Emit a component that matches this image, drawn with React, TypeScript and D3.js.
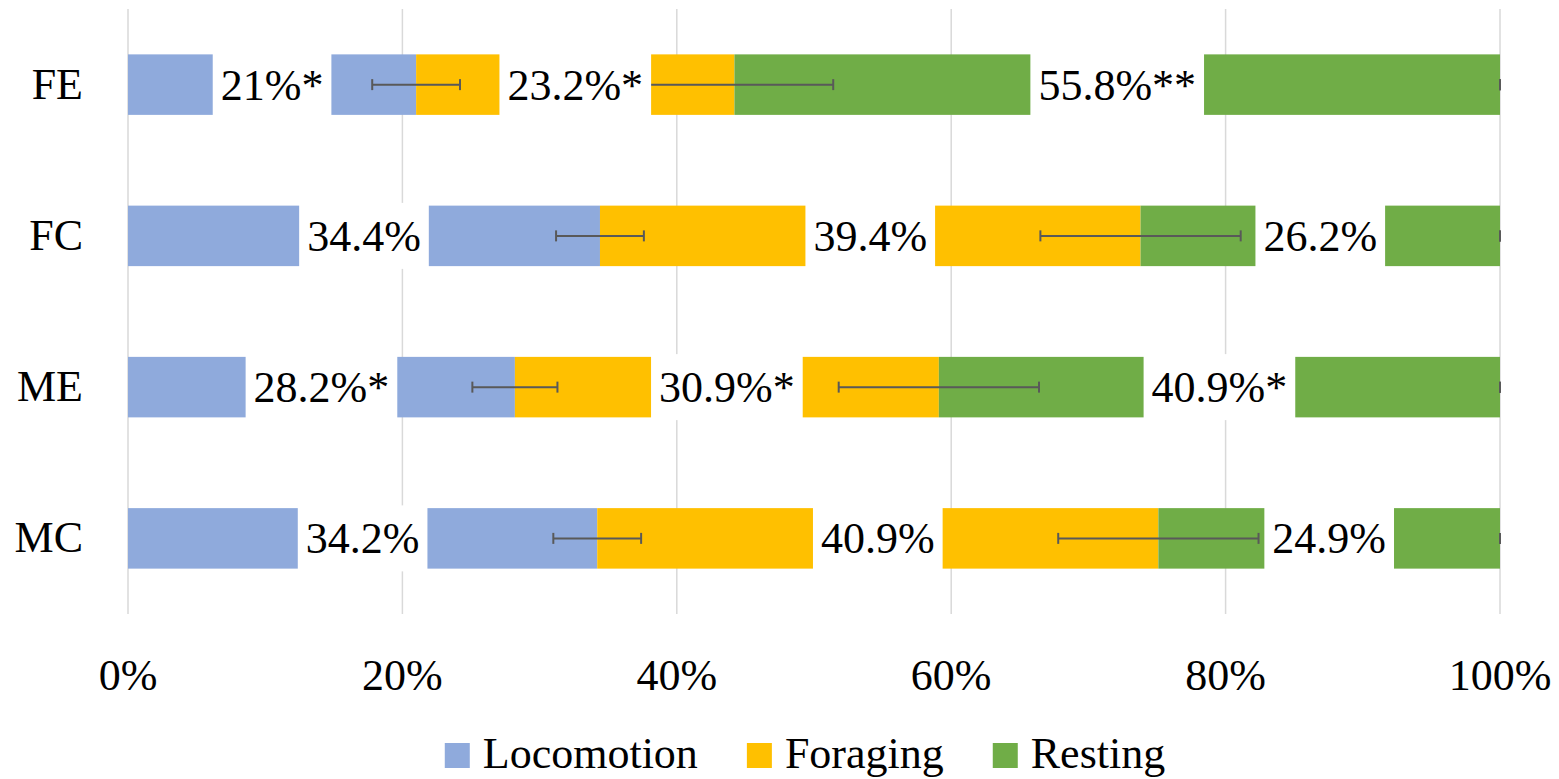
import React, { useEffect, useRef } from "react";
import * as d3 from "d3";

// values (percent)
const categories = ["FE", "FC", "ME", "MC"];
const seriesNames = ["Locomotion", "Foraging", "Resting"];
const locomotion = [21, 34.4, 28.2, 34.2];
const foraging = [23.2, 39.4, 30.9, 40.9];
const resting = [55.8, 26.2, 40.9, 24.9];
const locomotionErr = [3.2, 3.2, 3.1, 3.2];
const foragingErr = [7.2, 7.3, 7.3, 7.3];
const restingErr = [0, 0, 0, 0];
const locomotionStars = ["*", "", "*", ""];
const foragingStars = ["*", "", "*", ""];
const restingStars = ["**", "", "*", ""];
const xTicks = [0, 20, 40, 60, 80, 100];

const colors = ["#8FAADC", "#FFC000", "#70AD47"];
const FONT = '"Liberation Serif", "DejaVu Serif", "Times New Roman", serif';

const W = 1559;
const H = 779;

export default function App() {
	const svgRef = useRef<SVGSVGElement | any>();

	useEffect(() => {
		const svg = d3.select(svgRef.current);
		svg.selectAll("*").remove();

		const values = [locomotion, foraging, resting];
		const errs = [locomotionErr, foragingErr, restingErr];
		const stars = [locomotionStars, foragingStars, restingStars];

		const x = d3.scaleLinear().domain([0, 100]).range([128, 1500]);
		const y = d3
			.scaleBand()
			.domain(categories)
			.range([9, 614])
			.paddingInner(0.6)
			.paddingOuter(0.3);

		// build segments
		const segs: any[] = [];
		categories.forEach((c, i) => {
			let acc = 0;
			values.forEach((vals, s) => {
				segs.push({
					cat: c,
					s,
					x0: acc,
					x1: acc + vals[i],
					err: errs[s][i],
					label: `${vals[i]}%${stars[s][i]}`,
				});
				acc += vals[i];
			});
		});

		// gridlines
		svg
			.append("g")
			.selectAll("line")
			.data(xTicks)
			.join("line")
			.attr("x1", (d) => x(d))
			.attr("x2", (d) => x(d))
			.attr("y1", 9)
			.attr("y2", 614)
			.attr("stroke", "#D9D9D9")
			.attr("stroke-width", 1.5);

		// tick labels
		svg
			.append("g")
			.selectAll("text")
			.data(xTicks)
			.join("text")
			.attr("x", (d) => x(d))
			.attr("y", 690)
			.attr("text-anchor", "middle")
			.style("font-family", FONT)
			.attr("font-size", 44)
			.attr("fill", "#000")
			.text((d) => `${d}%`);

		// category labels
		svg
			.append("g")
			.selectAll("text")
			.data(categories)
			.join("text")
			.attr("x", 83)
			.attr("y", (d) => (y(d) as number) + y.bandwidth() / 2 + 14)
			.attr("text-anchor", "end")
			.style("font-family", FONT)
			.attr("font-size", 44)
			.attr("fill", "#000")
			.text((d) => d);

		// bars
		svg
			.append("g")
			.selectAll("rect")
			.data(segs)
			.join("rect")
			.attr("x", (d) => x(d.x0))
			.attr("width", (d) => x(d.x1) - x(d.x0))
			.attr("y", (d) => y(d.cat) as number)
			.attr("height", y.bandwidth())
			.attr("fill", (d) => colors[d.s]);

		// error bars
		const eb = svg
			.append("g")
			.attr("stroke", "#595959")
			.attr("stroke-width", 2)
			.selectAll("g")
			.data(segs)
			.join("g")
			.attr(
				"transform",
				(d) => `translate(0,${(y(d.cat) as number) + y.bandwidth() / 2})`,
			);
		eb.append("line")
			.attr("x1", (d) => x(d.x1 - d.err))
			.attr("x2", (d) => x(Math.min(100, d.x1 + d.err)));
		eb.append("line")
			.attr("x1", (d) => x(d.x1 - d.err))
			.attr("x2", (d) => x(d.x1 - d.err))
			.attr("y1", -5.5)
			.attr("y2", 5.5);
		eb.append("line")
			.attr("x1", (d) => x(Math.min(100, d.x1 + d.err)))
			.attr("x2", (d) => x(Math.min(100, d.x1 + d.err)))
			.attr("y1", -5.5)
			.attr("y2", 5.5);

		// data labels with white boxes
		const lab = svg
			.append("g")
			.selectAll("g")
			.data(segs)
			.join("g")
			.attr(
				"transform",
				(d) =>
					`translate(${(x(d.x0) + x(d.x1)) / 2},${(y(d.cat) as number) + y.bandwidth() / 2})`,
			);
		const box = lab.append("rect").attr("fill", "#fff");
		const txt = lab
			.append("text")
			.attr("text-anchor", "middle")
			.attr("y", 15)
			.style("font-family", FONT)
			.attr("font-size", 44)
			.attr("fill", "#000")
			.text((d) => d.label);
		txt.each(function (this: any, d: any) {
			d.tw = this.getComputedTextLength();
		});
		box
			.attr("x", (d) => -d.tw / 2 - 8)
			.attr("width", (d) => d.tw + 16)
			.attr("y", -33)
			.attr("height", 66);

		// legend
		const legend = svg.append("g");
		const items = legend
			.selectAll("g")
			.data(seriesNames)
			.join("g");
		items
			.append("rect")
			.attr("width", 25)
			.attr("height", 25)
			.attr("y", 743)
			.attr("fill", (d, i) => colors[i]);
		const ltxt = items
			.append("text")
			.attr("x", 38)
			.attr("y", 768)
			.style("font-family", FONT)
			.attr("font-size", 44)
			.attr("fill", "#000")
			.text((d) => d);
		const widths: number[] = [];
		ltxt.each(function (this: any) {
			widths.push(38 + this.getComputedTextLength());
		});
		const gap = 49;
		const total = d3.sum(widths) + gap * (widths.length - 1);
		let cx = 805 - total / 2;
		items.attr("transform", (d, i) => {
			const t = `translate(${cx},0)`;
			cx += widths[i] + gap;
			return t;
		});
	}, []);

	return (
		<svg
			ref={svgRef}
			width={W}
			height={H}
			style={{ position: "absolute", left: 0, top: 0, background: "#fff" }}
		/>
	);
}
